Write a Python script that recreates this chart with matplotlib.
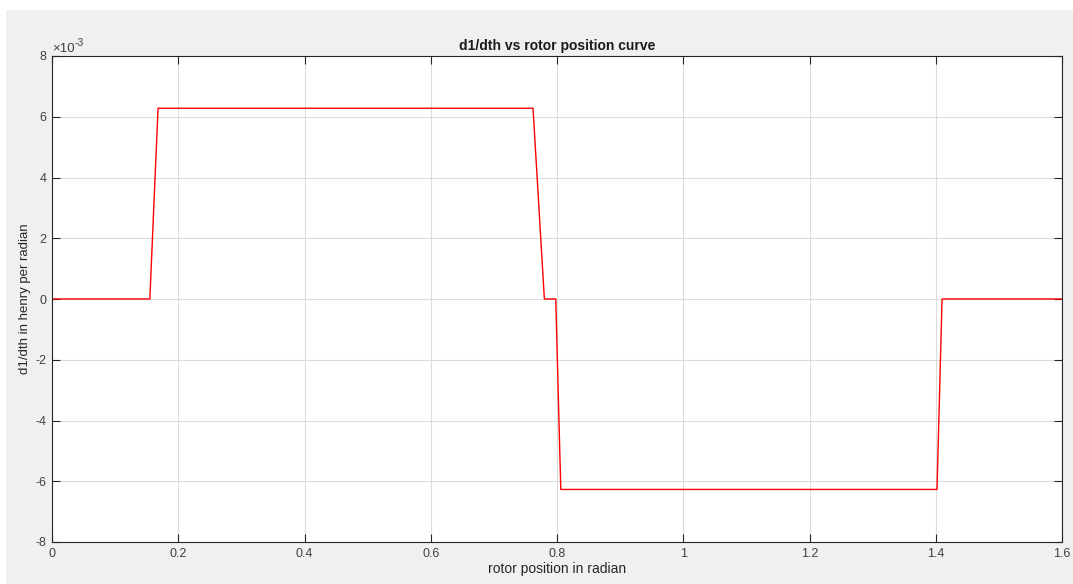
import numpy as np
import matplotlib
matplotlib.use('Agg')
import matplotlib.pyplot as plt
from matplotlib.patches import Rectangle
from matplotlib.ticker import FuncFormatter

plt.rcParams['font.family'] = ['Liberation Sans', 'DejaVu Sans']
plt.rcParams['axes.unicode_minus'] = False

# rotor position (rad) and d1/dth (H/rad)
theta = [0.0, 0.155, 0.168, 0.762, 0.780, 0.798, 0.806, 1.402, 1.410, 1.6]
dL = [0.0, 0.0, 6.28e-3, 6.28e-3, 0.0, 0.0, -6.27e-3, -6.27e-3, 0.0, 0.0]

xticks = [0, 0.2, 0.4, 0.6, 0.8, 1.0, 1.2, 1.4, 1.6]
xticklabels = ['0', '0.2', '0.4', '0.6', '0.8', '1', '1.2', '1.4', '1.6']
yticks = np.array([-8, -6, -4, -2, 0, 2, 4, 6, 8]) * 1e-3

W, H = 1073, 584
fig = plt.figure(figsize=(W / 100, H / 100), dpi=100, facecolor='white')
fig.patches.append(Rectangle((6 / W, 0), 1 - 6 / W, (H - 10) / H,
                             transform=fig.transFigure, facecolor='#f0f0f0',
                             edgecolor='none', zorder=-10))

ax = fig.add_axes([52 / W, 1 - 542 / H, (1062 - 52) / W, (542 - 56) / H])
ax.set_facecolor('white')
ax.plot(theta, dL, color='red', lw=1.0)

ax.set_xlim(0, 1.6)
ax.set_ylim(-8e-3, 8e-3)
ax.set_xticks(xticks)
ax.set_xticklabels(xticklabels)
ax.set_yticks(yticks)
ax.yaxis.set_major_formatter(FuncFormatter(lambda v, p: f'{v * 1e3:g}'.replace('\u2212', '-')))

# exponent label like MATLAB
t1 = ax.text(0.0, 1.003, '\u00d710', transform=ax.transAxes, fontsize=9.5,
             color='#404040', ha='left', va='bottom')
ax.annotate('-3', xy=(1.0, 0.55), xycoords=t1, fontsize=7.5,
            color='#404040', ha='left', va='bottom')

ax.grid(True, color='#dcdcdc', lw=0.8)
ax.set_axisbelow(True)
ax.tick_params(direction='in', length=5.5, width=0.8, colors='#262626',
               labelcolor='#404040', labelsize=9, top=True, right=True, pad=4)
for s in ax.spines.values():
    s.set_color('#262626')
    s.set_linewidth(0.8)

ax.set_title('d1/dth vs rotor position curve', fontsize=10, fontweight='bold',
             color='#1a1a1a', pad=4)
ax.set_xlabel('rotor position in radian', fontsize=10, color='#262626', labelpad=2)
ax.set_ylabel('d1/dth in henry per radian', fontsize=9.5, color='#262626', labelpad=3)

fig.savefig('out.png', dpi=100, facecolor=fig.get_facecolor())
